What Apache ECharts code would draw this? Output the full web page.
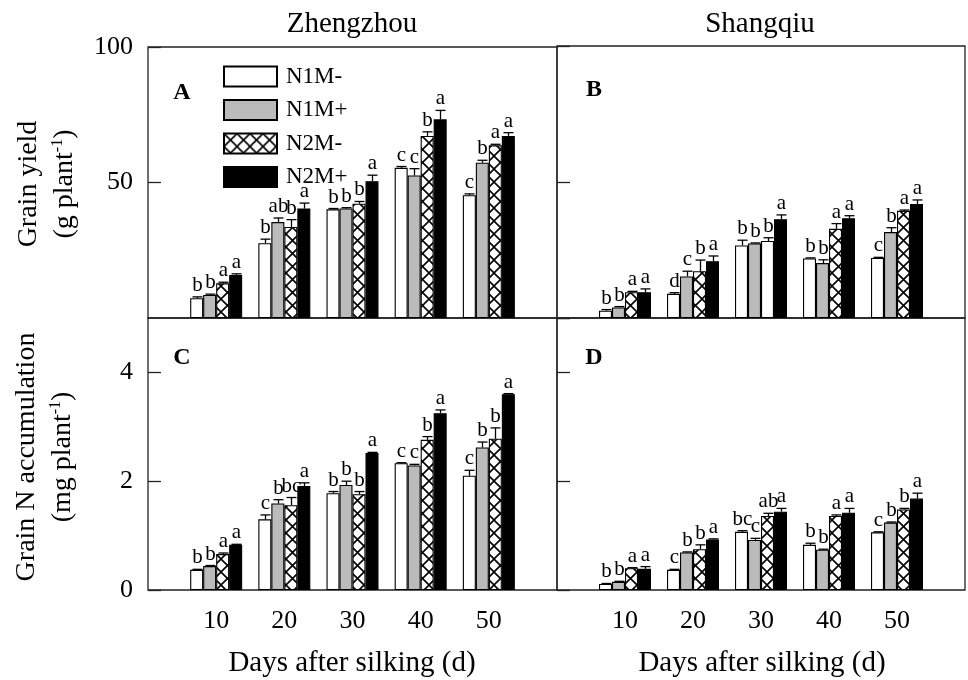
<!DOCTYPE html>
<html>
<head>
<meta charset="utf-8">
<title>Grain yield and grain N accumulation</title>
<script src="https://cdn.jsdelivr.net/npm/echarts@6.0.0/dist/echarts.min.js"></script>
<style>
    html, body {margin: 0; padding: 0; background: #fff;}
    #chart {width: 968px; height: 680px;}
</style>
</head>
<body>
<div id="chart"></div>
<script>
// days after silking and treatments
var days = [10, 20, 30, 40, 50];
var treatments = ['N1M-', 'N1M+', 'N2M-', 'N2M+'];

// A: grain yield, Zhengzhou (g plant-1), one row per treatment
var yieldZZ = [
    [7.3, 27.6, 40.1, 55.4, 45.3],
    [8.5, 35.4, 40.4, 52.6, 57.3],
    [12.8, 33.6, 42.2, 67.2, 63.7],
    [15.9, 40.4, 50.5, 73.3, 67.2]
];
var yieldZZErr = [
    [0.5, 1.5, 0.3, 0.5, 0.5],
    [0.3, 1.5, 0.3, 2.5, 0.9],
    [0.4, 2.7, 0.8, 1.5, 0.4],
    [0.4, 2.0, 2.2, 3.3, 1.2]
];
var yieldZZSig = [
    ['b', 'b', 'b', 'c', 'c'],
    ['b', 'ab', 'b', 'c', 'b'],
    ['a', 'b', 'b', 'b', 'a'],
    ['a', 'a', 'a', 'a', 'a']
];

// B: grain yield, Shangqiu
var yieldSQ = [
    [2.7, 8.9, 26.7, 21.9, 22.1],
    [3.9, 15.3, 27.4, 20.2, 31.6],
    [9.5, 17.2, 28.3, 32.8, 39.4],
    [9.5, 20.9, 36.3, 36.7, 41.9]
];
var yieldSQErr = [
    [0.4, 0.4, 1.9, 0.2, 0.2],
    [0.3, 1.9, 0.2, 1.2, 1.6],
    [0.3, 4.1, 1.2, 1.9, 0.3],
    [1.2, 1.9, 1.6, 0.9, 1.5]
];
var yieldSQSig = [
    ['b', 'd', 'b', 'b', 'c'],
    ['b', 'c', 'b', 'b', 'b'],
    ['a', 'b', 'b', 'a', 'a'],
    ['a', 'a', 'a', 'a', 'a']
];
// bars printed without hatching in the original: [treatment, day index]
var yieldSQPlain = [[2, 2]];

// C: grain N accumulation, Zhengzhou (mg plant-1)
var nAccZZ = [
    [0.37, 1.30, 1.78, 2.33, 2.10],
    [0.44, 1.59, 1.93, 2.29, 2.62],
    [0.66, 1.56, 1.76, 2.76, 2.78],
    [0.83, 1.91, 2.52, 3.25, 3.60]
];
var nAccZZErr = [
    [0.01, 0.08, 0.03, 0.01, 0.10],
    [0.01, 0.07, 0.07, 0.02, 0.10],
    [0.02, 0.14, 0.05, 0.06, 0.20],
    [0.01, 0.06, 0.01, 0.06, 0.01]
];
var nAccZZSig = [
    ['b', 'c', 'b', 'c', 'c'],
    ['b', 'b', 'b', 'c', 'b'],
    ['a', 'bc', 'b', 'b', 'b'],
    ['a', 'a', 'a', 'a', 'a']
];

// D: grain N accumulation, Shangqiu
var nAccSQ = [
    [0.11, 0.37, 1.07, 0.83, 1.06],
    [0.15, 0.69, 0.92, 0.74, 1.24],
    [0.40, 0.75, 1.36, 1.36, 1.48],
    [0.39, 0.93, 1.44, 1.42, 1.68]
];
var nAccSQErr = [
    [0.01, 0.01, 0.02, 0.03, 0.01],
    [0.01, 0.01, 0.03, 0.01, 0.01],
    [0.01, 0.08, 0.05, 0.02, 0.02],
    [0.04, 0.01, 0.06, 0.08, 0.10]
];
var nAccSQSig = [
    ['b', 'c', 'bc', 'b', 'c'],
    ['b', 'b', 'c', 'b', 'b'],
    ['a', 'b', 'ab', 'a', 'b'],
    ['a', 'a', 'a', 'a', 'a']
];

var FONT = '"Liberation Serif", "Times New Roman", serif';
var BAR_W = 13;

// cross-hatch tile for the N2M- bars
function makeHatch() {
    var c = document.createElement('canvas');
    c.width = 13;
    c.height = 13;
    var ctx = c.getContext('2d');
    ctx.fillStyle = '#fff';
    ctx.fillRect(0, 0, 13, 13);
    ctx.strokeStyle = '#000';
    ctx.lineWidth = 1.6;
    ctx.beginPath();
    ctx.moveTo(0, 0); ctx.lineTo(13, 13);
    ctx.moveTo(13, 0); ctx.lineTo(0, 13);
    ctx.stroke();
    return c;
}

var fills = ['#ffffff', '#bbbbbb', {image: makeHatch(), repeat: 'repeat'}, '#000000'];

var panels = [
    {vals: yieldZZ, err: yieldZZErr, sig: yieldZZSig, plain: []},
    {vals: yieldSQ, err: yieldSQErr, sig: yieldSQSig, plain: yieldSQPlain},
    {vals: nAccZZ, err: nAccZZErr, sig: nAccZZSig, plain: []},
    {vals: nAccSQ, err: nAccSQErr, sig: nAccSQSig, plain: []}
];

var grids = [
    {left: 148, top: 47, width: 409, height: 271},
    {left: 557, top: 46, width: 408, height: 272},
    {left: 148, top: 318, width: 409, height: 272},
    {left: 557, top: 318, width: 408, height: 272}
];
grids.forEach(function (g) {
    g.show = true;
    g.borderColor = '#222';
    g.borderWidth = 1.3;
    g.backgroundColor = 'transparent';
});

var xAxes = [], yAxes = [], series = [];
grids.forEach(function (g, gi) {
    var bottom = gi >= 2;
    xAxes.push({
        gridIndex: gi, type: 'value', min: 0, max: 60, interval: 10,
        axisLine: {show: false}, axisTick: {show: false}, splitLine: {show: false},
        axisLabel: {
            show: bottom, margin: 18, color: '#000', fontFamily: FONT, fontSize: 26,
            showMinLabel: false, showMaxLabel: false
        }
    });
    yAxes.push({
        gridIndex: gi, type: 'value', min: 0, max: bottom ? 5 : 100, interval: bottom ? 2 : 50,
        axisLine: {show: false}, splitLine: {show: false},
        axisTick: {show: true, inside: true, length: 13, lineStyle: {color: '#222', width: 1.3}},
        axisLabel: {
            show: gi % 2 === 0, margin: 15, color: '#000', fontFamily: FONT, fontSize: 26,
            showMinLabel: gi === 2, showMaxLabel: gi === 0
        }
    });
});

panels.forEach(function (p, gi) {
    treatments.forEach(function (name, k) {
        series.push({
            name: name, type: 'bar', xAxisIndex: gi, yAxisIndex: gi,
            barWidth: BAR_W, barGap: '0%', silent: true,
            itemStyle: {color: fills[k], borderColor: '#000', borderWidth: 1.1},
            data: days.map(function (d, i) {
                var item = {value: [d, p.vals[k][i]]};
                p.plain.forEach(function (pl) {
                    if (pl[0] === k && pl[1] === i) {
                        item.itemStyle = {color: '#fff'};
                    }
                });
                return item;
            })
        });
    });

    // error bars with significance letters
    var rows = [], letters = [];
    treatments.forEach(function (name, k) {
        days.forEach(function (d, i) {
            rows.push([d, p.vals[k][i], p.err[k][i], k]);
            letters.push(p.sig[k][i]);
        });
    });
    series.push({
        type: 'custom', xAxisIndex: gi, yAxisIndex: gi, silent: true, z: 5,
        data: rows,
        renderItem: function (params, api) {
            var base = api.coord([api.value(0), api.value(1)]);
            var top = api.coord([api.value(0), api.value(1) + api.value(2)]);
            var cx = Math.round(base[0] + (api.value(3) - 1.5) * BAR_W) + 0.5;
            var line = {stroke: '#000', lineWidth: 1.3};
            return {
                type: 'group',
                children: [
                    {type: 'line', shape: {x1: cx, y1: base[1], x2: cx, y2: top[1]}, style: line},
                    {type: 'line', shape: {x1: cx - 5, y1: top[1], x2: cx + 5, y2: top[1]}, style: line},
                    {type: 'text', x: cx, y: top[1] - 1, style: {
                        text: letters[params.dataIndex], fill: '#000', fontFamily: FONT, fontSize: 21,
                        align: 'center', verticalAlign: 'bottom'
                    }}
                ]
            };
        }
    });
});

function label(text, x, y, extra) {
    var st = {text: text, fill: '#000', fontFamily: FONT, fontSize: 29, align: 'center', verticalAlign: 'middle'};
    for (var key in (extra || {})) {
        st[key] = extra[key];
    }
    return {type: 'text', x: x, y: y, style: st};
}

var supRich = {sup: {fontFamily: FONT, fontSize: 16, verticalAlign: 'top', padding: [0, 0, 14, 0]}};

var graphics = [
    label('Zhengzhou', 352, 24),
    label('Shangqiu', 760, 24),
    label('Days after silking (d)', 352, 663),
    label('Days after silking (d)', 762, 663),
    label('A', 182, 93, {fontWeight: 'bold', fontSize: 24}),
    label('B', 594, 90, {fontWeight: 'bold', fontSize: 24}),
    label('C', 182, 358, {fontWeight: 'bold', fontSize: 24}),
    label('D', 594, 358, {fontWeight: 'bold', fontSize: 24}),
    {type: 'text', x: 29, y: 184, rotation: Math.PI / 2, style: {
        text: 'Grain yield', fill: '#000', fontFamily: FONT, fontSize: 28, align: 'center', verticalAlign: 'middle'}},
    {type: 'text', x: 65, y: 184, rotation: Math.PI / 2, style: {
        text: '(g plant{sup|-1})', rich: supRich, fill: '#000', fontFamily: FONT, fontSize: 28,
        align: 'center', verticalAlign: 'middle'}},
    {type: 'text', x: 27, y: 457, rotation: Math.PI / 2, style: {
        text: 'Grain N accumulation', fill: '#000', fontFamily: FONT, fontSize: 28, align: 'center', verticalAlign: 'middle'}},
    {type: 'text', x: 63, y: 457, rotation: Math.PI / 2, style: {
        text: '(mg plant{sup|-1})', rich: supRich, fill: '#000', fontFamily: FONT, fontSize: 28,
        align: 'center', verticalAlign: 'middle'}}
];

var chart = echarts.init(document.getElementById('chart'), null, {renderer: 'canvas'});
chart.setOption({
    animation: false,
    backgroundColor: '#fff',
    grid: grids,
    xAxis: xAxes,
    yAxis: yAxes,
    legend: {
        data: treatments, orient: 'vertical', left: 218, top: 60,
        itemWidth: 53, itemHeight: 20, itemGap: 10.5, selectedMode: false,
        icon: 'rect',
        textStyle: {fontFamily: FONT, fontSize: 23, color: '#000', padding: [0, 0, 0, 4]}
    },
    graphic: graphics,
    series: series
});
</script>
</body>
</html>
